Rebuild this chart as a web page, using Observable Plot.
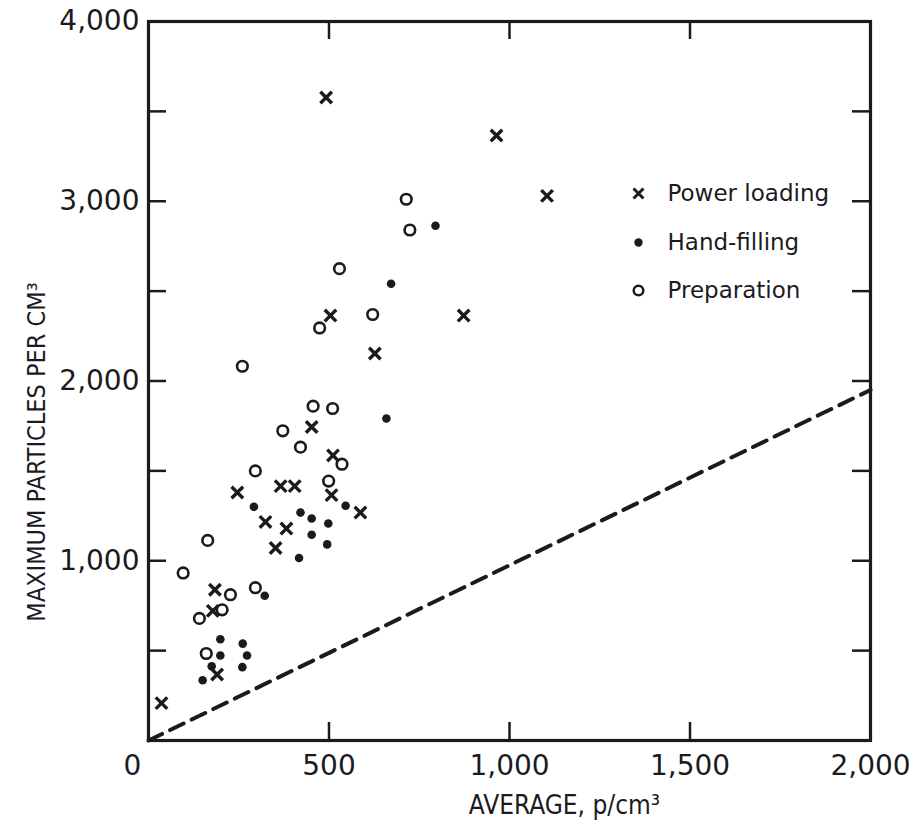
<!DOCTYPE html>
<html>
<head>
<meta charset="utf-8">
<script src="https://cdn.jsdelivr.net/npm/d3@7"></script>
<script src="https://cdn.jsdelivr.net/npm/@observablehq/plot@0.6"></script>
<style>
  body { margin: 0; background: #fff; }
</style>
</head>
<body>
<div id="chart"></div>
<script>
// ---- data ----
const powerX = [492, 964, 1104, 504, 873, 627, 452, 511, 246, 366, 405, 507, 587, 324, 382, 352, 184, 178, 190, 36];
const powerY = [3577, 3366, 3030, 2364, 2364, 2153, 1744, 1586, 1380, 1415, 1415, 1365, 1268, 1216, 1179, 1071, 839, 721, 367, 208];

const handX = [795, 672, 659, 292, 421, 452, 498, 546, 452, 495, 417, 322, 199, 261, 199, 273, 175, 260, 150];
const handY = [2864, 2541, 1791, 1300, 1268, 1235, 1207, 1306, 1145, 1091, 1015, 805, 563, 539, 473, 473, 413, 408, 335];

const prepX = [714, 724, 529, 621, 474, 260, 456, 510, 372, 421, 536, 296, 499, 164, 96, 227, 296, 204, 141, 160];
const prepY = [3011, 2840, 2625, 2370, 2295, 2082, 1860, 1847, 1723, 1632, 1537, 1500, 1443, 1113, 932, 811, 850, 727, 679, 484];

const refLineX = [0, 2000];
const refLineY = [0, 1950];

const xTickValues = [0, 500, 1000, 1500, 2000];
const xTickLabels = ["0", "500", "1,000", "1,500", "2,000"];
const yTickValues = [0, 500, 1000, 1500, 2000, 2500, 3000, 3500, 4000];
const yLabelValues = [1000, 2000, 3000, 4000];
const yLabelTexts = ["1,000", "2,000", "3,000", "4,000"];

const legendLabels = ["Power loading", "Hand-filling", "Preparation"];
const xTitle = "AVERAGE, p/cm\u00B3";
const yTitle = "MAXIMUM PARTICLES PER CM\u00B3";

// ---- build ----
const ink = "#1b1b1f";
const W = 924, H = 822;
const mL = 148, mR = 54, mT = 21, mB = 82;
const pw = W - mL - mR, ph = H - mT - mB;
const tickLen = 18;

const pts = (xs, ys) => xs.map((x, i) => ({x, y: ys[i]}));
const power = pts(powerX, powerY);
const hand = pts(handX, handY);
const prep = pts(prepX, prepY);
const refLine = pts(refLineX, refLineY);
const innerX = xTickValues.slice(1, -1);
const innerY = yTickValues.slice(1, -1);

const titleFont = "'DejaVu Sans Condensed', 'Liberation Sans Narrow', sans-serif";
const labelFont = "'DejaVu Sans', sans-serif";

const chart = Plot.plot({
  width: W,
  height: H,
  marginLeft: mL,
  marginRight: mR,
  marginTop: mT,
  marginBottom: mB,
  style: {background: "#fff", color: ink, fontFamily: labelFont, fontSize: "28px"},
  x: {
    domain: [0, 2000],
    ticks: xTickValues.slice(1),
    tickFormat: d => xTickLabels[xTickValues.indexOf(d)],
    tickSize: 0,
    tickPadding: 15,
    label: null
  },
  y: {
    domain: [0, 4000],
    ticks: yLabelValues,
    tickFormat: d => yLabelTexts[yLabelValues.indexOf(d)],
    tickSize: 0,
    tickPadding: 9,
    label: null
  },
  marks: [
    // inward ticks on all four sides
    Plot.ruleX(innerX, {x: d => d, insetTop: ph - tickLen, stroke: ink, strokeWidth: 2.5}),
    Plot.ruleX(innerX, {x: d => d, insetBottom: ph - tickLen, stroke: ink, strokeWidth: 2.5}),
    Plot.ruleY(innerY, {y: d => d, insetRight: pw - tickLen, stroke: ink, strokeWidth: 2.5}),
    Plot.ruleY(innerY, {y: d => d, insetLeft: pw - tickLen, stroke: ink, strokeWidth: 2.5}),
    Plot.frame({stroke: ink, strokeWidth: 3.2}),
    // origin label
    Plot.text([xTickValues[0]], {x: d => d, text: d => xTickLabels[xTickValues.indexOf(d)], frameAnchor: "bottom", lineAnchor: "top", dy: 15, dx: -16, fontSize: 28, fontFamily: labelFont, fill: ink}),
    // dashed reference line
    Plot.line(refLine, {x: "x", y: "y", stroke: ink, strokeWidth: 4, strokeDasharray: "15,9"}),
    // data
    Plot.dot(hand, {x: "x", y: "y", r: 4.3, fill: ink, stroke: "none"}),
    Plot.dot(prep, {x: "x", y: "y", r: 5.3, fill: "none", stroke: ink, strokeWidth: 2.6}),
    Plot.dot(power, {x: "x", y: "y", symbol: "times", r: 5.3, stroke: ink, strokeWidth: 3.4}),
    // legend
    Plot.dot([legendLabels[0]], {frameAnchor: "top-left", dx: 490, dy: 172, symbol: "times", r: 4.6, stroke: ink, strokeWidth: 3}),
    Plot.dot([legendLabels[1]], {frameAnchor: "top-left", dx: 490, dy: 221, r: 4.2, fill: ink, stroke: "none"}),
    Plot.dot([legendLabels[2]], {frameAnchor: "top-left", dx: 490, dy: 269, r: 4.8, fill: "none", stroke: ink, strokeWidth: 2.5}),
    Plot.text([legendLabels[0]], {frameAnchor: "top-left", dx: 519, dy: 172, text: d => d, textAnchor: "start", lineAnchor: "middle", fontSize: 23, fontFamily: labelFont, fill: ink}),
    Plot.text([legendLabels[1]], {frameAnchor: "top-left", dx: 519, dy: 221, text: d => d, textAnchor: "start", lineAnchor: "middle", fontSize: 23, fontFamily: labelFont, fill: ink}),
    Plot.text([legendLabels[2]], {frameAnchor: "top-left", dx: 519, dy: 269, text: d => d, textAnchor: "start", lineAnchor: "middle", fontSize: 23, fontFamily: labelFont, fill: ink}),
    // axis titles
    Plot.text([xTitle], {frameAnchor: "bottom", dx: 55, dy: 65, text: d => d, textAnchor: "middle", lineAnchor: "middle", fontSize: 26, fontFamily: titleFont, fill: ink}),
    Plot.text([yTitle], {frameAnchor: "left", dx: -112, dy: 71, rotate: -90, text: d => d, textAnchor: "middle", lineAnchor: "middle", fontSize: 25, fontFamily: titleFont, fill: ink})
  ]
});

document.getElementById("chart").appendChild(chart);
</script>
</body>
</html>
